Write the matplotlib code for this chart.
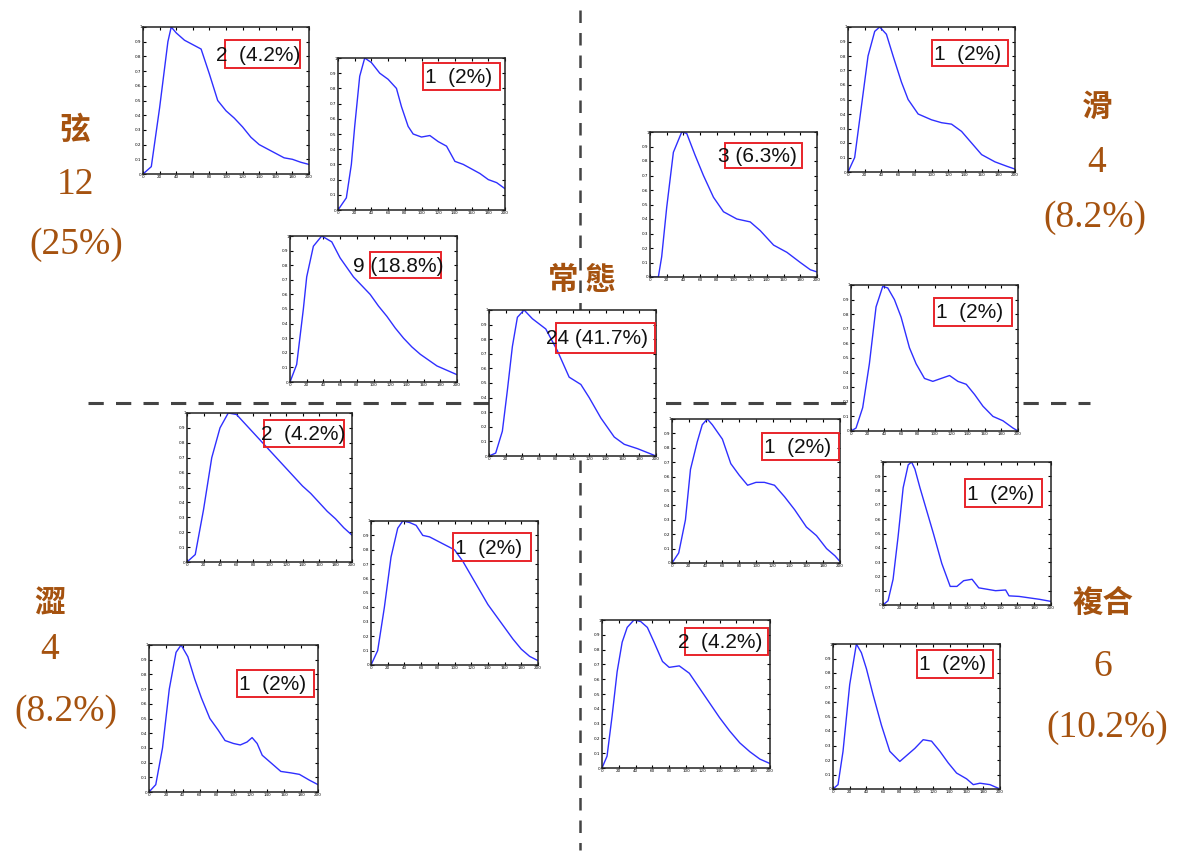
import numpy as np
import matplotlib
matplotlib.use("Agg")
import matplotlib.pyplot as plt
from matplotlib.patches import Rectangle

# ---- pulse contour data (normalised amplitude vs normalised time) ----
counts = ["2", "1", "9", "24", "3", "1", "1", "1", "1", "2", "1", "2", "1", "1"]
percents = ["4.2%", "2%", "18.8%", "41.7%", "6.3%", "2%", "2%", "2%", "2%",
            "4.2%", "2%", "4.2%", "2%", "2%"]

x_xian_a = [0, 0.05, 0.1, 0.15, 0.17, 0.2, 0.25, 0.3, 0.35, 0.4, 0.45, 0.5, 0.55,
            0.6, 0.65, 0.7, 0.75, 0.8, 0.85, 0.9, 0.95, 1.0]
y_xian_a = [0, 0.05, 0.45, 0.9, 1.0, 0.96, 0.91, 0.88, 0.85, 0.68, 0.5, 0.43, 0.38,
            0.32, 0.25, 0.2, 0.17, 0.14, 0.11, 0.1, 0.08, 0.065]

x_xian_b = [0, 0.05, 0.08, 0.1, 0.13, 0.16, 0.2, 0.25, 0.3, 0.35, 0.38, 0.42, 0.45,
            0.5, 0.55, 0.6, 0.65, 0.7, 0.75, 0.8, 0.85, 0.9, 0.95, 1.0]
y_xian_b = [0, 0.08, 0.3, 0.55, 0.88, 1.0, 0.97, 0.9, 0.86, 0.8, 0.68, 0.55, 0.5,
            0.48, 0.49, 0.45, 0.42, 0.32, 0.3, 0.27, 0.24, 0.2, 0.18, 0.14]

x_xian_c = [0, 0.04, 0.08, 0.1, 0.14, 0.19, 0.25, 0.3, 0.38, 0.43, 0.48, 0.53, 0.58,
            0.63, 0.68, 0.73, 0.78, 0.83, 0.88, 0.94, 1.0]
y_xian_c = [0, 0.12, 0.5, 0.72, 0.93, 1.0, 0.96, 0.85, 0.72, 0.66, 0.6, 0.52, 0.45,
            0.37, 0.3, 0.24, 0.19, 0.15, 0.11, 0.08, 0.05]

x_normal = [0, 0.04, 0.08, 0.11, 0.14, 0.17, 0.21, 0.26, 0.34, 0.41, 0.48, 0.55, 0.6,
            0.67, 0.75, 0.81, 0.89, 1.0]
y_normal = [0, 0.02, 0.17, 0.45, 0.75, 0.95, 1.0, 0.94, 0.87, 0.72, 0.54, 0.49, 0.4,
            0.26, 0.13, 0.08, 0.05, 0.0]

x_hua_a = [0, 0.05, 0.07, 0.1, 0.14, 0.19, 0.22, 0.27, 0.32, 0.38, 0.44, 0.52, 0.6,
           0.66, 0.74, 0.82, 0.9, 0.96, 1.0]
y_hua_a = [0, 0.0, 0.14, 0.48, 0.86, 1.0, 0.99, 0.84, 0.7, 0.55, 0.45, 0.4, 0.38,
           0.32, 0.22, 0.17, 0.1, 0.05, 0.035]

x_hua_b = [0, 0.04, 0.08, 0.12, 0.16, 0.19, 0.23, 0.27, 0.32, 0.36, 0.42, 0.5, 0.56,
           0.62, 0.68, 0.74, 0.8, 0.88, 0.95, 1.0]
y_hua_b = [0, 0.1, 0.45, 0.8, 0.97, 1.0, 0.95, 0.8, 0.62, 0.5, 0.4, 0.36, 0.34,
           0.33, 0.28, 0.2, 0.12, 0.07, 0.04, 0.02]

x_hua_c = [0, 0.03, 0.07, 0.11, 0.15, 0.19, 0.22, 0.26, 0.3, 0.35, 0.39, 0.44, 0.49,
           0.54, 0.59, 0.64, 0.69, 0.74, 0.79, 0.85, 0.91, 0.97, 1.0]
y_hua_c = [0, 0.02, 0.16, 0.46, 0.85, 0.99, 0.98, 0.9, 0.78, 0.57, 0.46, 0.36, 0.34,
           0.36, 0.38, 0.34, 0.32, 0.25, 0.17, 0.1, 0.07, 0.02, 0.0]

x_fu_a = [0, 0.04, 0.08, 0.11, 0.15, 0.18, 0.21, 0.24, 0.3, 0.35, 0.4, 0.45, 0.5,
          0.55, 0.61, 0.67, 0.73, 0.8, 0.86, 0.92, 0.97, 1.0]
y_fu_a = [0, 0.07, 0.3, 0.65, 0.84, 0.96, 1.0, 0.96, 0.86, 0.69, 0.61, 0.54, 0.56,
          0.56, 0.54, 0.46, 0.37, 0.25, 0.19, 0.1, 0.05, 0.01]

x_fu_b = [0, 0.03, 0.06, 0.09, 0.12, 0.15, 0.17, 0.19, 0.22, 0.26, 0.3, 0.35, 0.4,
          0.44, 0.48, 0.53, 0.57, 0.62, 0.67, 0.73, 0.75, 0.81, 0.87, 0.93, 1.0]
y_fu_b = [0, 0.03, 0.18, 0.48, 0.82, 0.98, 1.0, 0.95, 0.82, 0.66, 0.5, 0.29, 0.13,
          0.13, 0.17, 0.18, 0.12, 0.11, 0.1, 0.105, 0.064, 0.06, 0.05, 0.04, 0.025]

x_fu_c = [0, 0.03, 0.06, 0.09, 0.12, 0.15, 0.19, 0.23, 0.27, 0.31, 0.36, 0.4, 0.46,
          0.52, 0.58, 0.64, 0.7, 0.76, 0.82, 0.88, 0.94, 1.0]
y_fu_c = [0, 0.08, 0.35, 0.65, 0.85, 0.95, 1.0, 0.99, 0.95, 0.85, 0.72, 0.68, 0.69,
          0.64, 0.54, 0.44, 0.34, 0.25, 0.17, 0.11, 0.06, 0.03]

x_fu_d = [0, 0.03, 0.06, 0.1, 0.14, 0.17, 0.2, 0.24, 0.29, 0.34, 0.4, 0.45, 0.49,
          0.54, 0.59, 0.64, 0.69, 0.74, 0.8, 0.84, 0.88, 0.94, 1.0]
y_fu_d = [0, 0.03, 0.26, 0.72, 1.0, 0.94, 0.83, 0.65, 0.44, 0.26, 0.19, 0.24, 0.28,
          0.34, 0.33, 0.26, 0.18, 0.11, 0.07, 0.03, 0.04, 0.03, 0.0]

x_se_a = [0, 0.05, 0.1, 0.15, 0.2, 0.25, 0.3, 0.35, 0.4, 0.45, 0.5, 0.55, 0.6,
          0.65, 0.7, 0.75, 0.8, 0.85, 0.9, 0.95, 1.0]
y_se_a = [0, 0.05, 0.35, 0.7, 0.9, 1.0, 0.99, 0.93, 0.87, 0.81, 0.75, 0.69, 0.63,
          0.57, 0.51, 0.46, 0.4, 0.34, 0.29, 0.23, 0.18]

x_se_b = [0, 0.04, 0.08, 0.12, 0.16, 0.19, 0.23, 0.27, 0.31, 0.35, 0.4, 0.45, 0.5,
          0.55, 0.6, 0.65, 0.7, 0.75, 0.8, 0.85, 0.9, 0.95, 1.0]
y_se_b = [0, 0.1, 0.4, 0.75, 0.95, 1.0, 0.99, 0.97, 0.9, 0.89, 0.86, 0.83, 0.8,
          0.72, 0.62, 0.52, 0.42, 0.34, 0.26, 0.18, 0.11, 0.06, 0.03]

x_se_c = [0, 0.04, 0.08, 0.12, 0.16, 0.19, 0.23, 0.27, 0.31, 0.36, 0.41, 0.45, 0.5,
          0.54, 0.58, 0.61, 0.64, 0.67, 0.72, 0.78, 0.84, 0.89, 0.95, 1.0]
y_se_c = [0, 0.05, 0.3, 0.7, 0.95, 1.0, 0.92, 0.77, 0.64, 0.5, 0.42, 0.35, 0.33,
          0.32, 0.34, 0.37, 0.33, 0.25, 0.2, 0.14, 0.13, 0.12, 0.08, 0.05]

curves = [(x_xian_a, y_xian_a), (x_xian_b, y_xian_b), (x_xian_c, y_xian_c),
          (x_normal, y_normal), (x_hua_a, y_hua_a), (x_hua_b, y_hua_b),
          (x_hua_c, y_hua_c), (x_fu_a, y_fu_a), (x_fu_b, y_fu_b),
          (x_fu_c, y_fu_c), (x_fu_d, y_fu_d), (x_se_a, y_se_a),
          (x_se_b, y_se_b), (x_se_c, y_se_c)]

group_names = ["弦", "滑", "常 態", "澀", "複合"]
group_counts = ["12", "4", "", "4", "6"]
group_pcts = ["(25%)", "(8.2%)", "", "(8.2%)", "(10.2%)"]

# ---- layout (pixels, figure is 1181 x 857) ----
W, H = 1181, 857
# panel: left, top, right, bottom
panel_box = [(143, 27, 309, 174), (338, 58, 505, 210), (290, 236, 457, 382),
             (489, 310, 656, 456), (650, 132, 817, 277), (848, 27, 1015, 172),
             (851, 285, 1018, 431), (672, 419, 840, 563), (883, 462, 1051, 605),
             (602, 620, 770, 768), (833, 644, 1000, 789), (187, 413, 352, 562),
             (371, 521, 538, 665), (149, 645, 318, 792)]
# red label box: left, top, right, bottom ; text anchor x
label_box = [(225, 40, 300, 68, 216), (423, 63, 500, 90, 425),
             (370, 252, 441, 278, 353), (556, 323, 655, 353, 546),
             (725, 143, 802, 168, 718), (932, 40, 1008, 66, 934),
             (934, 298, 1012, 326, 936), (762, 433, 839, 460, 764),
             (965, 479, 1042, 507, 967), (685, 628, 768, 655, 678),
             (917, 650, 993, 678, 919), (264, 420, 344, 447, 261),
             (453, 533, 531, 561, 455), (237, 670, 314, 697, 239)]
# name x, name y, count y, percent y, percent x
group_pos = [(75, 130, 185, 245, 76), (1097, 107, 163, 218, 1095),
             (582, 280, None, None, None), (50, 603, 650, 712, 66),
             (1103, 603, 667, 728, 1107)]

brown = "#A5520F"
cjk = ["Noto Sans CJK TC", "DejaVu Sans"]
serif = ["Liberation Serif", "DejaVu Serif"]

fig = plt.figure(figsize=(W / 100, H / 100), dpi=100)
bg = fig.add_axes([0, 0, 1, 1], zorder=0)
bg.set_xlim(0, W)
bg.set_ylim(H, 0)
bg.axis("off")

# quadrant dividers
bg.plot([580, 580], [10, 850], color="#444444", lw=1.8, ls=(0, (5, 4)))
bg.plot([88, 1090], [403, 403], color="#444444", lw=2.2, ls=(0, (5, 4)))

for name, cnt, pct, (gx, gy1, gy2, gy3, px) in zip(group_names, group_counts,
                                                   group_pcts, group_pos):
    bg.text(gx, gy1, name, color=brown, fontsize=22, fontweight="bold",
            family=cjk, ha="center", va="center")
    if cnt:
        bg.text(gx, gy2, cnt, color=brown, fontsize=27, family=serif,
                ha="center", va="center")
        bg.text(px, gy3, pct, color=brown, fontsize=27, family=serif,
                ha="center", va="center")

for i, ((xs, ys), (l, t, r, b)) in enumerate(zip(curves, panel_box)):
    ax = fig.add_axes([l / W, 1 - b / H, (r - l) / W, (b - t) / H], zorder=2 + i)
    ax.plot(xs, ys, color="#2f2fff", lw=1.0)
    ax.set_xlim(0, 1)
    ax.set_ylim(0, 1)
    ax.set_xticks(np.linspace(0, 1, 11))
    ax.set_yticks(np.linspace(0, 1, 11))
    ax.set_xticklabels([str(v) for v in range(0, 220, 20)])
    ax.set_yticklabels(["0"] + ["%.1f" % v for v in np.linspace(0.1, 0.9, 9)] + ["1"])
    ax.tick_params(direction="in", length=2.5, width=0.8, labelsize=3, pad=1,
                   top=True, right=True)
    for s in ax.spines.values():
        s.set_linewidth(1.1)
        s.set_color("#222222")

# red labels on top of the panels
top = fig.add_axes([0, 0, 1, 1], zorder=50)
top.set_xlim(0, W)
top.set_ylim(H, 0)
top.axis("off")
top.patch.set_alpha(0)
for cnt, pct, (l, t, r, b, tx) in zip(counts, percents, label_box):
    top.add_patch(Rectangle((l, t), r - l, b - t, fill=False, ec="#e8242a", lw=1.4))
    gap = "  " if cnt == "1" or (cnt == "2" and l < 700) else " "
    top.text(tx, (t + b) / 2 + 1, cnt + gap + "(" + pct + ")", fontsize=15,
             family=["Liberation Sans", "DejaVu Sans"], ha="left", va="center",
             color="#111111")

fig.savefig("out.png", dpi=100)
